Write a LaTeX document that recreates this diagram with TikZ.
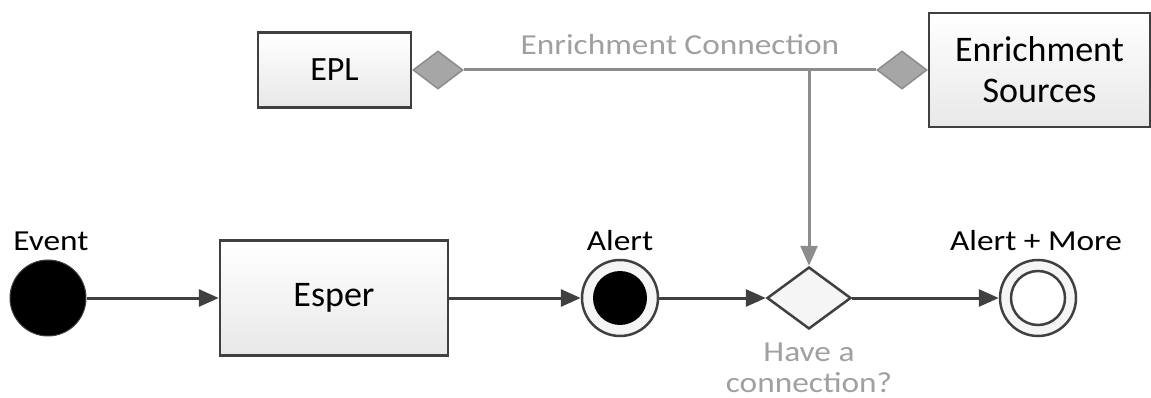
\documentclass[tikz,border=0pt]{standalone}
\usepackage{fontspec}
\setmainfont{Carlito}
\newfontfamily\lblfont[FakeStretch=1.15]{Carlito}
\usetikzlibrary{shapes.geometric,arrows.meta}
\definecolor{linedark}{HTML}{404040}
\definecolor{linegray}{HTML}{8C8C8C}
\definecolor{textgray}{HTML}{A0A0A0}
\tikzstyle{box} = [rectangle, draw=linedark, line width=2.5pt, top color=white, bottom color=black!9, align=center, font=\fontsize{36}{41}\selectfont]
\tikzstyle{lbl} = [font=\lblfont\fontsize{29}{31}\selectfont, inner sep=0pt]
\tikzstyle{glbl} = [lbl, text=textgray]
\tikzstyle{link} = [diamond, draw=linegray, fill=black!35, line width=1.5pt, minimum width=50pt, minimum height=38pt, inner sep=0pt]
\tikzstyle{flow} = [draw=linedark, line width=3pt, -{Triangle[length=20pt,width=17pt]}]
\tikzstyle{feed} = [draw=linegray, line width=3pt]

\begin{document}
\begin{tikzpicture}[x=1pt, y=-1pt]
\useasboundingbox (0,0) rectangle (1151,398);
%enrichment
\node[box, minimum width=153pt, minimum height=75pt, font=\fontsize{34}{41}\selectfont] (epl) at (334.5,70) {EPL};
\node[box, minimum width=221pt, minimum height=114pt] (sources) at (1039.5,70) {Enrichment\\Sources};
\node[link, anchor=west] (epldia) at (epl.east) {};
\node[link, anchor=east] (srcdia) at (sources.west) {};
\node[glbl] (conn) at (680,45) {Enrichment Connection};
\coordinate (tap) at (809,70);
%main row
\node[circle, fill=black, draw=linedark, line width=1pt, minimum size=76pt, inner sep=0pt] (event) at (48,298) {};
\node[lbl] (eventlbl) at (51,241) {Event};
\node[box, minimum width=228pt, minimum height=115pt] (esper) at (334,298) {Esper};
\node[circle, draw=linedark, line width=2.5pt, fill=black!4, minimum size=76pt, inner sep=0pt] (alert) at (620,298) {};
\node[circle, fill=black, minimum size=54pt, inner sep=0pt] (alertin) at (alert) {};
\node[lbl] (alertlbl) at (620,241) {Alert};
\node[diamond, draw=linedark, line width=2.5pt, fill=black!4, minimum width=84pt, minimum height=62pt, inner sep=0pt] (choice) at (809,298) {};
\node[glbl] (have) at (809,352) {Have a};
\node[glbl] (connq) at (809,383) {connection?};
\node[circle, draw=linedark, line width=2.5pt, fill=black!4, minimum size=76pt, inner sep=0pt] (more) at (1038,298) {};
\node[circle, draw=linedark, line width=2.5pt, fill=white, minimum size=54pt, inner sep=0pt] (morein) at (more) {};
\node[lbl] (morelbl) at (1036,241) {Alert + More};
%connectors
\draw[feed] (epldia.east) -- (srcdia.west);
\draw[feed, -{Triangle[length=20pt,width=17pt]}] (tap) -- (choice.north);
\draw[flow] (event) -- (esper);
\draw[flow] (esper) -- (alert);
\draw[flow] (alert) -- (choice);
\draw[flow] (choice) -- (more);
\end{tikzpicture}
\end{document}
